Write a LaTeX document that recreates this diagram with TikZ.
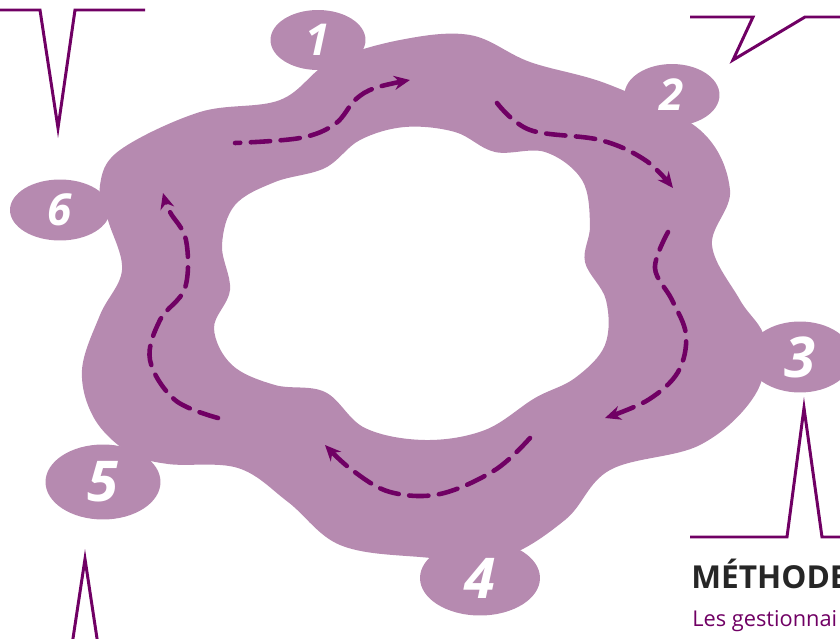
\documentclass[tikz,border=0pt]{standalone}
\usepackage{fontspec}
\setmainfont{Open Sans}
\usetikzlibrary{shapes.geometric,arrows.meta}
\definecolor{ringfill}{RGB}{182,138,176}
\definecolor{plum}{RGB}{112,0,100}

\begin{document}
\begin{tikzpicture}[
  x=0.02cm,y=-0.02cm,
  badge/.style={ellipse,fill=ringfill,inner sep=0pt,text=white},
  small/.style={font=\bfseries\itshape\fontsize{25}{25}\selectfont},
  large/.style={font=\bfseries\itshape\fontsize{32}{32}\selectfont},
  flow/.style={plum,line width=2.6pt,line cap=round,dash pattern=on 11pt off 6pt,-{Stealth[length=9pt,width=8pt]}},
  callout/.style={plum,line width=1.7pt,line join=miter}
]
  \useasboundingbox (0,0) rectangle (840,639);
  \clip (0,0) rectangle (840,639);

  % ring with hole
  \fill[ringfill,even odd rule]
    plot[smooth cycle,tension=0.6] coordinates {
      (120,150) (200,112) (280,100) (330,62) (400,40) (470,35) (530,62) (610,85)
      (700,130) (730,190) (712,245) (740,300) (765,340) (755,395) (700,445)
      (610,470) (565,520) (500,558) (420,557) (340,545) (288,502) (238,468)
      (168,464) (128,452) (94,418) (82,370) (100,315) (122,270) (108,220) (100,185)}
    plot[smooth cycle,tension=0.6] coordinates {
      (360,140) (405,127) (455,132) (495,152) (545,152) (582,180) (590,225)
      (585,262) (606,300) (605,345) (575,378) (535,398) (485,430) (425,440)
      (365,428) (325,392) (275,385) (232,365) (214,328) (230,290) (222,245)
      (235,205) (275,182) (325,168)};

  % badges
  \node[badge,small,minimum width=1.9cm,minimum height=1.2cm] (b1) at (318,40) {1};
  \node[badge,small,minimum width=1.9cm,minimum height=1.24cm] (b2) at (672,95) {2};
  \node[badge,large,minimum width=2.1cm,minimum height=1.42cm] (b3) at (800,357) {3};
  \node[badge,large,minimum width=2.4cm,minimum height=1.5cm] (b4) at (480,578) {4};
  \node[badge,large,minimum width=2.3cm,minimum height=1.5cm] (b5) at (103,482) {5};
  \node[badge,small,minimum width=2.0cm,minimum height=1.22cm] (b6) at (60,210) {6};

  % flow arrows
  \draw[flow,dash phase=8pt] plot[smooth,tension=0.6] coordinates {(235,143) (300,138) (335,124) (355,100) (375,88) (410,80)};
  \draw[flow] plot[smooth,tension=0.6] coordinates {(497,103) (530,130) (600,140) (645,160) (673,188)};
  \draw[flow] plot[smooth,tension=0.6] coordinates {(668,232) (655,268) (672,300) (686,335) (678,372) (648,400) (605,418)};
  \draw[flow] plot[smooth,tension=0.6] coordinates {(530,438) (495,470) (440,494) (390,492) (352,470) (325,445)};
  \draw[flow] plot[smooth,tension=0.6] coordinates {(218,418) (175,400) (150,360) (160,320) (185,288) (186,240) (170,212) (163,193)};

  % callout lines
  \draw[callout] (0,10) -- (40,10) -- (58,128) -- (75,10) -- (145,10);
  \draw[callout] (690,17) -- (753,17) -- (733,60) -- (805,17) -- (840,17);
  \draw[callout] (690,537) -- (787,537) -- (804,408) -- (822,537) -- (845,537);
  \draw[callout] (72,645) -- (85,559) -- (98,645);

  % text
  \node[anchor=base west,inner sep=0pt,font=\bfseries\fontsize{18}{21}\selectfont,text=black!85] (title) at (691,588) {MÉTHODE};
  \node[anchor=base west,inner sep=0pt,font=\fontsize{12.4}{15}\selectfont,text=plum] (body) at (692,626) {Les gestionnai};
\end{tikzpicture}
\end{document}
